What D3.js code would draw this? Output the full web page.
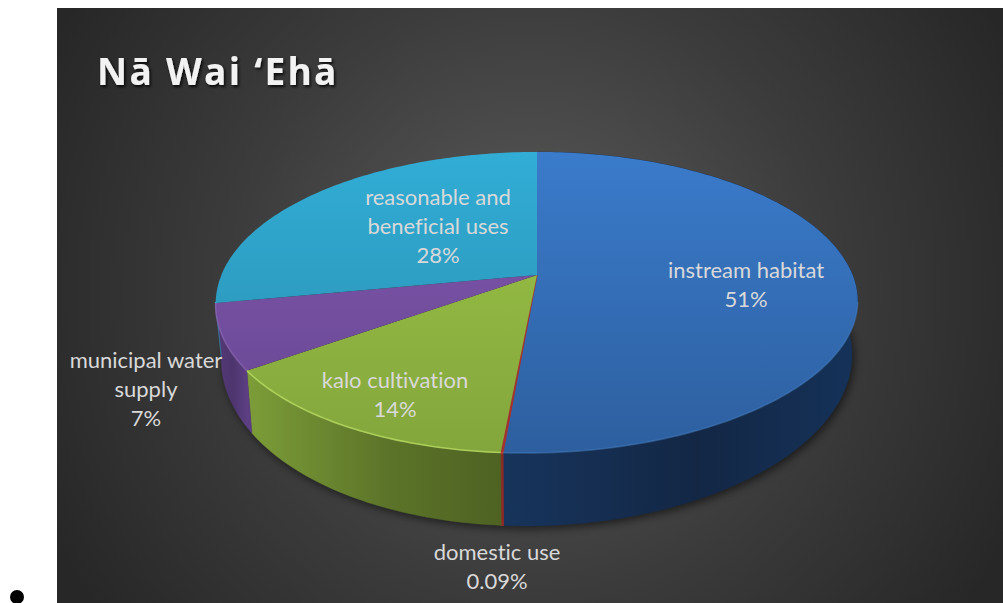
<!DOCTYPE html>
<html>
<head>
<meta charset="utf-8">
<script src="https://cdn.jsdelivr.net/npm/d3@7/dist/d3.min.js"></script>
<style>
  html, body { margin: 0; padding: 0; background: #fff; overflow: hidden; }
  svg { display: block; }
  text { font-family: Lato, "Open Sans", sans-serif; font-variant-ligatures: none; }
</style>
</head>
<body>
<svg id="chart" width="1003" height="603"></svg>
<script>
// Water allocation shares
const categories = ["instream habitat", "domestic use", "kalo cultivation", "municipal water supply", "reasonable and beneficial uses"];
const shares = [51, 0.09, 14, 7, 28];
const shareLabels = ["51%", "0.09%", "14%", "7%", "28%"];
const labelLines = [["instream habitat"], ["domestic use"], ["kalo cultivation"], ["municipal water", "supply"], ["reasonable and", "beneficial uses"]];

// Per-slice paint: top face gradient, side wall gradient, rim highlight
const faceTop = ["#3a7bcb", "#b03a36", "#9cc447", "#8255ad", "#31add6"];
const faceBottom = ["#2d5f9f", "#a5332f", "#83a63c", "#664892", "#2a8cad"];
const wallLeft = ["#153259", "#8d2a27", "#7c9d38", "#553a78", "#2a8cad"];
const wallMid = ["#132745", "#8d2a27", "#5c7429", "#4d356e", "#22708b"];
const wallRight = ["#17345c", "#8d2a27", "#4e6222", "#5c3f82", "#22708b"];
const rimColor = ["#4a86c9", "#c4423d", "#b4d760", "#8d66b5", "#4cc0e0"];
const rimOpacity = [0.45, 0.85, 0.9, 0.7, 0.7];

const svg = d3.select("#chart");
const defs = svg.append("defs");

// Background panel with a soft central glow
const panel = { x: 57, y: 8, w: 946, h: 595 };
const glow = defs.append("radialGradient").attr("id", "glow")
  .attr("gradientUnits", "userSpaceOnUse")
  .attr("cx", 530).attr("cy", 290).attr("r", 540);
glow.append("stop").attr("offset", 0).attr("stop-color", "#5c5c5c");
glow.append("stop").attr("offset", 0.55).attr("stop-color", "#3c3c3c");
glow.append("stop").attr("offset", 1).attr("stop-color", "#272727");
svg.append("rect").attr("x", panel.x).attr("y", panel.y)
  .attr("width", panel.w).attr("height", panel.h).attr("fill", "url(#glow)");

// List bullet beside the panel
svg.append("circle").attr("cx", 17).attr("cy", 597).attr("r", 7).attr("fill", "#000");

// Perspective disc: upper face and lower face of the pie.
// The front of the disc leans slightly left, which lean sets.
const cx = 537, k = 0.1827, lean = 11;
const faces = [
  { apex: 275, a: 315.6, b: 145.5 },
  { apex: 326, a: 310, b: 163.4 }
];
function project(theta, face) {
  const s = Math.sin(theta), c = Math.cos(theta);
  const w = 1 + k * c;
  const shift = c < 0 ? lean * c * c : 0;
  return [cx + face.a * s / w - shift, face.apex - face.b * c / w];
}

const pie = d3.pie().sort(null).startAngle(0).endAngle(2 * Math.PI);
const arcs = pie(shares);
const line = d3.line();
const step = Math.PI / 180;
function sweep(a0, a1) {
  const n = Math.max(2, Math.ceil((a1 - a0) / step));
  return d3.range(n + 1).map(i => a0 + (a1 - a0) * i / n);
}

const softShadow = defs.append("filter").attr("id", "soft").attr("x", "-10%").attr("y", "-10%").attr("width", "120%").attr("height", "130%");
softShadow.append("feGaussianBlur").attr("stdDeviation", 4);

arcs.forEach((d, i) => {
  const fg = defs.append("linearGradient").attr("id", `face${i}`)
    .attr("gradientUnits", "userSpaceOnUse").attr("x1", 0).attr("x2", 0).attr("y1", 152).attr("y2", 453);
  fg.append("stop").attr("offset", 0).attr("stop-color", faceTop[i]);
  fg.append("stop").attr("offset", 1).attr("stop-color", faceBottom[i]);
  const xs = sweep(d.startAngle, d.endAngle).map(t => project(t, faces[0])[0]);
  const wg = defs.append("linearGradient").attr("id", `wall${i}`)
    .attr("gradientUnits", "userSpaceOnUse").attr("y1", 0).attr("y2", 0)
    .attr("x1", d3.min(xs)).attr("x2", d3.max(xs));
  wg.append("stop").attr("offset", 0).attr("stop-color", i === 0 ? wallRight[i] : wallLeft[i]);
  wg.append("stop").attr("offset", 0.55).attr("stop-color", wallMid[i]);
  wg.append("stop").attr("offset", 1).attr("stop-color", i === 0 ? wallLeft[i] : wallRight[i]);
});

// Shadow cast beneath the lower face
svg.append("path")
  .attr("d", line(sweep(0, 2 * Math.PI).map(t => {
    const p = project(t, faces[1]);
    return [p[0] + 2, p[1] + 3];
  })) + "Z")
  .attr("fill", "#000").attr("opacity", 0.55).attr("filter", "url(#soft)");

// Side walls: only the part of each slice that faces the viewer
const wallLimit = 3 * Math.PI / 2 - Math.asin(k);
const walls = svg.append("g");
arcs.forEach((d, i) => {
  const a1 = Math.min(d.endAngle, wallLimit);
  if (a1 <= d.startAngle) return;
  const ts = sweep(d.startAngle, a1);
  const pts = ts.map(t => project(t, faces[0])).concat(ts.slice().reverse().map(t => project(t, faces[1])));
  walls.append("path").attr("d", line(pts) + "Z").attr("fill", `url(#wall${i})`)
    .attr("stroke", `url(#wall${i})`).attr("stroke-width", i === 1 ? 1.2 : 0.4);
});

// Top faces, drawn over the walls
const tops = svg.append("g");
arcs.forEach((d, i) => {
  const ts = sweep(d.startAngle, d.endAngle);
  const pts = [[cx, faces[0].apex]].concat(ts.map(t => project(t, faces[0])));
  tops.append("path").attr("d", line(pts) + "Z").attr("fill", `url(#face${i})`)
    .attr("stroke", i === 1 ? "#a5332f" : "none").attr("stroke-width", 1.2);
});

// Bevel highlight along the front of the rim
arcs.forEach((d, i) => {
  const a0 = Math.max(d.startAngle, Math.PI / 2 + 0.18), a1 = Math.min(d.endAngle, 3 * Math.PI / 2 - 0.18);
  if (a1 <= a0) return;
  tops.append("path").attr("d", line(sweep(a0, a1).map(t => project(t, faces[0]))))
    .attr("fill", "none").attr("stroke", rimColor[i]).attr("stroke-width", 1.6).attr("opacity", rimOpacity[i]);
});

// Title with a drop shadow
const titleShadow = defs.append("filter").attr("id", "titleShadow").attr("x", "-5%").attr("y", "-20%").attr("width", "110%").attr("height", "150%");
titleShadow.append("feDropShadow").attr("dx", 1.5).attr("dy", 2).attr("stdDeviation", 1.5)
  .attr("flood-color", "#000").attr("flood-opacity", 0.85);
svg.append("text").attr("x", 97).attr("y", 85)
  .attr("font-size", 37).attr("font-weight", 700).attr("letter-spacing", 2.3)
  .style("font-family", "'Open Sans', sans-serif")
  .attr("fill", "#f2f2f2").attr("filter", "url(#titleShadow)")
  .text("Nā Wai ‘Ehā");

// Slice labels: name lines followed by the share
const labelCentres = [[746, 271], [497, 553], [395, 381], [146, 361], [438, 198]];
const labelGap = 29;
const labels = svg.append("g").attr("text-anchor", "middle").attr("fill", "#d9d9d9").attr("font-size", 22);
categories.forEach((name, i) => {
  const rows = labelLines[i].concat(shareLabels[i]);
  const t = labels.append("text").attr("aria-label", name);
  rows.forEach((row, j) => {
    t.append("tspan").attr("x", labelCentres[i][0])
      .attr("y", labelCentres[i][1] + j * labelGap + 7).text(row);
  });
});
</script>
</body>
</html>
